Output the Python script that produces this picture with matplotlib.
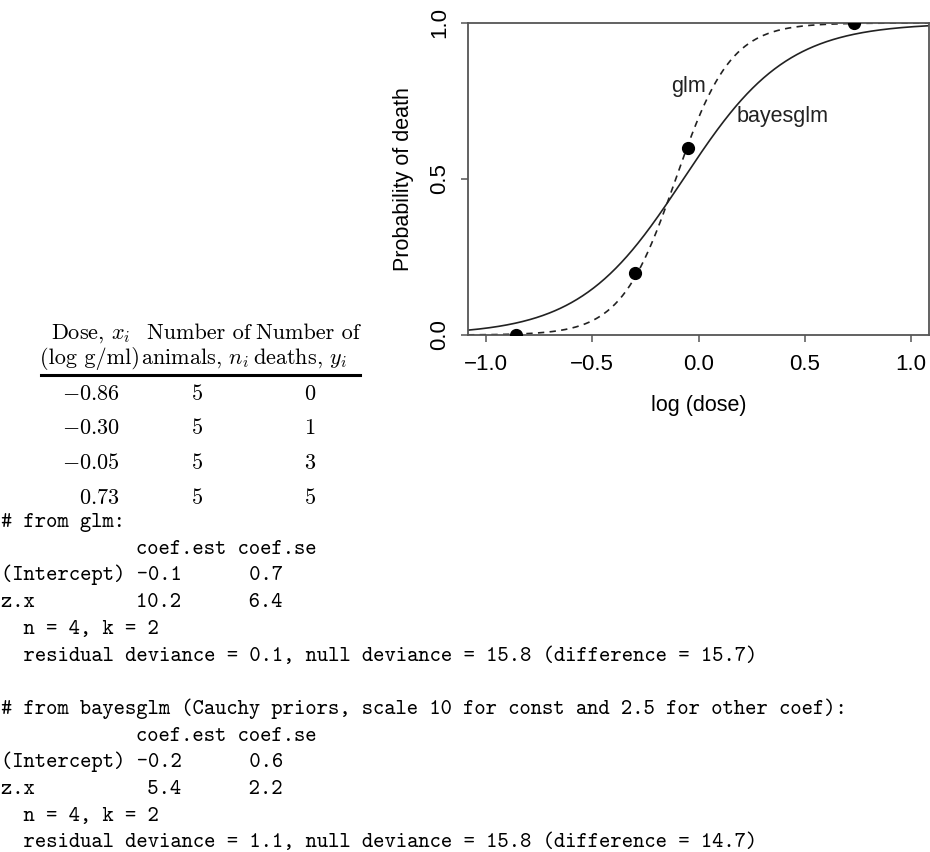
import numpy as np
import matplotlib
matplotlib.use("Agg")
import matplotlib.pyplot as plt

# ---- data ----
dose = [-0.86, -0.30, -0.05, 0.73]
animals = [5, 5, 5, 5]
deaths = [0, 1, 3, 5]
dose_labels = ["$-0.86$", "$-0.30$", "$-0.05$", "$0.73$"]
glm_coef = [-0.1, 10.2]      # intercept, slope on standardized dose
bayes_coef = [-0.2, 5.4]
xticks = [-1.0, -0.5, 0.0, 0.5, 1.0]
yticks = [0.0, 0.5, 1.0]

code_lines = [
    "# from glm:",
    "            coef.est coef.se",
    "(Intercept) -0.1      0.7",
    "z.x         10.2      6.4",
    "  n = 4, k = 2",
    "  residual deviance = 0.1, null deviance = 15.8 (difference = 15.7)",
    "",
    "# from bayesglm (Cauchy priors, scale 10 for const and 2.5 for other coef):",
    "            coef.est coef.se",
    "(Intercept) -0.2      0.6",
    "z.x          5.4      2.2",
    "  n = 4, k = 2",
    "  residual deviance = 1.1, null deviance = 15.8 (difference = 14.7)",
]

W, H = 930, 852
plt.rcParams['mathtext.fontset'] = 'cm'
fig = plt.figure(figsize=(W / 100, H / 100), dpi=100)

def fx(px):
    return px / W

def fy(py):
    return 1 - py / H

# ---- plot ----
ax = fig.add_axes([fx(468), fy(335), fx(929) - fx(468), fy(23) - fy(335)])
x = np.array(dose)
xm = x.mean()
xs = 2 * x.std(ddof=1)
xlim = (-1.085, 1.085)
grid = np.linspace(xlim[0], xlim[1], 500)
z = (grid - xm) / xs

def invlogit(v):
    return 1 / (1 + np.exp(-v))

ax.plot(grid, invlogit(glm_coef[0] + glm_coef[1] * z), color='#222222', lw=1.2,
        ls=(0, (3.8, 3.2)))
ax.plot(grid, invlogit(bayes_coef[0] + bayes_coef[1] * z), color='#222222', lw=1.2)
prop = np.array(deaths) / np.array(animals)
ax.plot(x, prop, 'o', color='black', ms=8.5, clip_on=True, zorder=5)

ax.set_xlim(*xlim)
ax.set_ylim(0, 1)
ax.set_xticks(xticks)
ax.set_xticklabels(["\u22121.0", "\u22120.5", "0.0", "0.5", "1.0"])
ax.set_yticks(yticks)
ax.set_yticklabels(["0.0", "0.5", "1.0"])
sans = 'Liberation Sans'
for lab in ax.get_xticklabels() + ax.get_yticklabels():
    lab.set_fontfamily(sans)
    lab.set_fontsize(16)
ax.tick_params(axis='x', direction='out', length=5, width=1.1, pad=9, color='#555555')
ax.tick_params(axis='y', direction='out', length=5, width=1.1, pad=8, color='#555555',
               labelrotation=90)
for lab in ax.get_yticklabels():
    lab.set_verticalalignment('center')
for s in ax.spines.values():
    s.set_color('#555555')
    s.set_linewidth(1.3)
ax.set_xlabel("log (dose)", fontfamily=sans, fontsize=15.5, labelpad=14)
ax.set_ylabel("Probability of death", fontfamily=sans, fontsize=15.5, labelpad=11)
ax.text(-0.045, 0.795, "glm", fontfamily=sans, fontsize=15.5, ha='center', va='center',
        color='#222222')
ax.text(0.18, 0.70, "bayesglm", fontfamily=sans, fontsize=15.5, ha='left', va='center',
        color='#222222')

# ---- table ----
tfs = 16
ser = 'cmr10'
fig.text(fx(91), fy(339), r"Dose, $x_i$", family=ser, fontsize=tfs, ha='center', va='baseline')
fig.text(fx(199), fy(339), "Number of", family=ser, fontsize=tfs, ha='center', va='baseline')
fig.text(fx(308), fy(339), "Number of", family=ser, fontsize=tfs, ha='center', va='baseline')
fig.text(fx(90), fy(364), "(log g/ml)", family=ser, fontsize=tfs, ha='center', va='baseline')
fig.text(fx(141), fy(364), r"animals, $n_i$", family=ser, fontsize=tfs, ha='left', va='baseline')
fig.text(fx(253), fy(364), r"deaths, $y_i$", family=ser, fontsize=tfs, ha='left', va='baseline')
fig.add_artist(plt.Line2D([fx(41), fx(360)], [fy(375), fy(375)], color='black', lw=2.2,
                          transform=fig.transFigure))
for i, (dl, n, d) in enumerate(zip(dose_labels, animals, deaths)):
    yb = 400 + i * 34.5
    fig.text(fx(120), fy(yb), dl, fontsize=tfs, ha='right', va='baseline')
    fig.text(fx(197), fy(yb), f"${n}$", fontsize=tfs, ha='center', va='baseline')
    fig.text(fx(310), fy(yb), f"${d}$", fontsize=tfs, ha='center', va='baseline')

# ---- code output ----
for i, line in enumerate(code_lines):
    if line:
        fig.text(fx(1), fy(527 + i * 26.7), line, family='cmtt10', fontsize=15.5,
                 ha='left', va='baseline')

fig.savefig("out.png", dpi=100)
